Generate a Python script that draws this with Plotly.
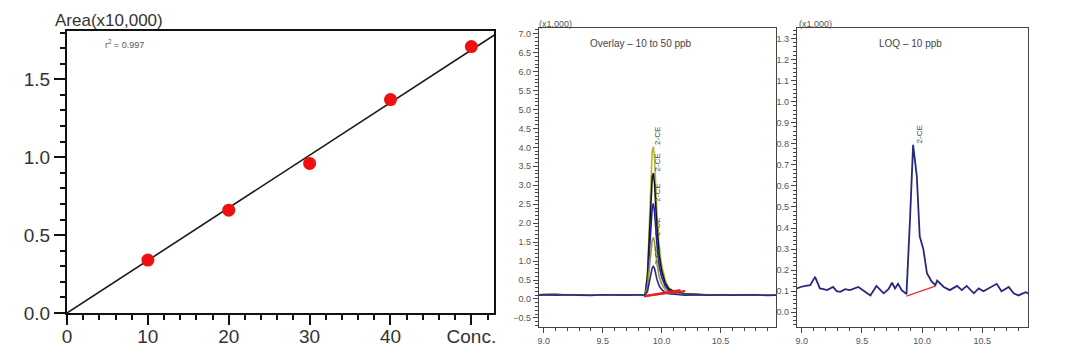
import numpy as np
import plotly.graph_objects as go

# ---------------- Data ----------------
# Calibration curve
conc = [10, 20, 30, 40, 50]
area = [0.34, 0.66, 0.96, 1.37, 1.71]   # x10,000
conc_ticks = [0, 10, 20, 30, 40, 50]
conc_ticktext = ["0", "10", "20", "30", "40", "Conc."]

# Overlay chromatograms (x1,000), retention time in min
overlay_time = [8.96, 9.0, 9.1, 9.2, 9.3, 9.4, 9.5, 9.6, 9.7, 9.8, 9.86, 9.88, 9.90, 9.92, 9.93,
                9.94, 9.96, 9.98, 10.0, 10.03, 10.06, 10.1, 10.15, 10.2, 10.3, 10.4, 10.5, 10.6,
                10.7, 10.8, 10.9, 10.97]
ppb50 = [0.11, 0.12, 0.11, 0.10, 0.11, 0.10, 0.11, 0.10, 0.11, 0.10, 0.11, 0.70, 2.30, 3.90, 4.02,
         3.70, 2.30, 1.35, 0.90, 0.50, 0.30, 0.22, 0.18, 0.14, 0.12, 0.11, 0.10, 0.11, 0.10, 0.11, 0.10, 0.11]
ppb40 = [0.11, 0.11, 0.12, 0.10, 0.11, 0.11, 0.10, 0.11, 0.10, 0.11, 0.11, 0.60, 1.90, 3.20, 3.32,
         3.05, 1.90, 1.15, 0.75, 0.42, 0.27, 0.20, 0.16, 0.13, 0.12, 0.10, 0.11, 0.10, 0.11, 0.10, 0.11, 0.10]
ppb30 = [0.10, 0.11, 0.11, 0.10, 0.10, 0.11, 0.10, 0.10, 0.11, 0.10, 0.10, 0.45, 1.45, 2.40, 2.52,
         2.30, 1.45, 0.85, 0.58, 0.34, 0.22, 0.17, 0.14, 0.12, 0.11, 0.10, 0.10, 0.11, 0.10, 0.10, 0.11, 0.10]
ppb20 = [0.10, 0.10, 0.11, 0.10, 0.11, 0.10, 0.10, 0.11, 0.10, 0.10, 0.10, 0.32, 0.95, 1.55, 1.62,
         1.50, 0.95, 0.58, 0.40, 0.25, 0.18, 0.15, 0.13, 0.11, 0.10, 0.11, 0.10, 0.10, 0.11, 0.10, 0.10, 0.10]
ppb10 = [0.10, 0.11, 0.10, 0.11, 0.10, 0.09, 0.11, 0.10, 0.10, 0.11, 0.10, 0.20, 0.52, 0.82, 0.86,
         0.80, 0.52, 0.34, 0.25, 0.17, 0.14, 0.12, 0.11, 0.10, 0.11, 0.10, 0.11, 0.10, 0.10, 0.11, 0.09, 0.10]
overlay_peaks = [4.02, 3.32, 2.52, 1.62, 0.86]
overlay_base_t = [9.85, 10.12, None, 9.86, 10.16, None, 9.88, 10.20]
overlay_base_v = [0.06, 0.20, None, 0.08, 0.24, None, 0.09, 0.21]

# LOQ chromatogram (x1,000)
loq_time = [8.96, 8.99, 9.03, 9.07, 9.11, 9.15, 9.18, 9.21, 9.26, 9.29, 9.32, 9.36, 9.40, 9.44,
            9.47, 9.52, 9.57, 9.62, 9.68, 9.72, 9.75, 9.775, 9.80, 9.83, 9.87, 9.90, 9.925, 9.956,
            9.98, 10.01, 10.04, 10.08, 10.11, 10.125, 10.18, 10.23, 10.29, 10.33, 10.37, 10.43,
            10.47, 10.51, 10.57, 10.62, 10.66, 10.72, 10.76, 10.80, 10.86, 10.88]
loq_signal = [0.113, 0.12, 0.125, 0.129, 0.168, 0.113, 0.11, 0.105, 0.12, 0.10, 0.097, 0.11, 0.105,
              0.115, 0.12, 0.10, 0.08, 0.125, 0.09, 0.11, 0.14, 0.113, 0.135, 0.105, 0.086, 0.45,
              0.795, 0.645, 0.36, 0.30, 0.185, 0.145, 0.129, 0.15, 0.12, 0.105, 0.125, 0.105, 0.125,
              0.09, 0.113, 0.10, 0.12, 0.135, 0.10, 0.12, 0.09, 0.08, 0.095, 0.09]
loq_base_t = [9.87, 10.11]
loq_base_v = [0.077, 0.124]
loq_peak = 0.795

# ---------------- Figure ----------------
W, H = 1080, 353
def px(x):
    return x / W
def py(y):
    return 1 - y / H

fig = go.Figure()

# Panel 1
slope = float(np.sum(np.array(conc) * np.array(area)) / np.sum(np.array(conc) ** 2))
fit_x = [0, 53]
fig.add_trace(go.Scatter(x=fit_x, y=[slope * v for v in fit_x], mode="lines",
                         line=dict(color="#1a1a1a", width=1.6), xaxis="x", yaxis="y",
                         showlegend=False, hoverinfo="skip", cliponaxis=True))
fig.add_trace(go.Scatter(x=conc, y=area, mode="markers",
                         marker=dict(color="#f01010", size=13), xaxis="x", yaxis="y",
                         showlegend=False))

# Panel 2
series = [(ppb50, "#b9b836"), (ppb40, "#151515"), (ppb30, "#1d1da8"), (ppb20, "#9a9a30"), (ppb10, "#2a2a88")]
for vals, col in series:
    fig.add_trace(go.Scatter(x=overlay_time, y=vals, mode="lines",
                             line=dict(color=col, width=1.6), xaxis="x2", yaxis="y2",
                             showlegend=False))
fig.add_trace(go.Scatter(x=overlay_base_t, y=overlay_base_v, mode="lines",
                         line=dict(color="#e82020", width=1.8), xaxis="x2", yaxis="y2",
                         showlegend=False))

# Panel 3
fig.add_trace(go.Scatter(x=loq_time, y=loq_signal, mode="lines",
                         line=dict(color="#27277f", width=1.8), xaxis="x3", yaxis="y3",
                         showlegend=False))
fig.add_trace(go.Scatter(x=loq_base_t, y=loq_base_v, mode="lines",
                         line=dict(color="#e83030", width=1.3), xaxis="x3", yaxis="y3",
                         showlegend=False))

big_font = dict(family="Liberation Sans, Arial, sans-serif", size=19, color="#333333")
small_font = dict(family="Liberation Sans, Arial, sans-serif", size=9, color="#555555")

fig.update_layout(
    width=W, height=H, margin=dict(l=0, r=0, t=0, b=0, autoexpand=False),
    paper_bgcolor="white", plot_bgcolor="white",
    xaxis=dict(domain=[px(67), px(494)], range=[0, 52.8], showgrid=False, zeroline=False,
               showline=True, mirror=True, linecolor="#111", linewidth=2, automargin=False,
               ticks="outside", ticklen=10, tickwidth=2, tickcolor="#111", ticklabelstandoff=-5,
               tickvals=conc_ticks, ticktext=conc_ticktext, tickfont=big_font,
               minor=dict(dtick=2, ticks="outside", ticklen=5, tickwidth=2, tickcolor="#111"),
               anchor="y"),
    yaxis=dict(domain=[py(313), py(31)], range=[0, 1.81], showgrid=False, zeroline=False,
               showline=True, mirror=True, linecolor="#111", linewidth=2, automargin=False,
               ticks="outside", ticklen=11, tickwidth=2, tickcolor="#111",
               tickvals=[0, 0.5, 1.0, 1.5], ticktext=["0.0", "0.5", "1.0", "1.5"], tickfont=big_font,
               minor=dict(dtick=0.1, ticks="outside", ticklen=5, tickwidth=2, tickcolor="#111"),
               anchor="x"),
    xaxis2=dict(domain=[px(539), px(776)], range=[8.96, 10.97], showgrid=False, zeroline=False,
                showline=True, mirror=True, linecolor="#444", linewidth=1.2, automargin=False,
                ticks="outside", ticklen=5, tickcolor="#444", dtick=0.5, tick0=9.0,
                tickformat=".1f", tickfont=small_font,
                minor=dict(dtick=0.1, ticks="outside", ticklen=3, tickcolor="#444"),
                anchor="y2"),
    yaxis2=dict(domain=[py(327), py(28)], range=[-0.74, 7.15], showgrid=False, zeroline=False,
                showline=True, mirror=True, linecolor="#444", linewidth=1.2, automargin=False,
                ticks="outside", ticklen=5, tickcolor="#444", dtick=0.5, tick0=0,
                tickformat=".1f", tickfont=small_font,
                minor=dict(dtick=0.1, ticks="outside", ticklen=3, tickcolor="#444"),
                anchor="x2"),
    xaxis3=dict(domain=[px(797), px(1028)], range=[8.96, 10.88], showgrid=False, zeroline=False,
                showline=True, mirror=True, linecolor="#444", linewidth=1.2, automargin=False,
                ticks="outside", ticklen=5, tickcolor="#444", dtick=0.5, tick0=9.0,
                tickformat=".1f", tickfont=small_font,
                minor=dict(dtick=0.1, ticks="outside", ticklen=3, tickcolor="#444"),
                anchor="y3"),
    yaxis3=dict(domain=[py(327), py(28)], range=[-0.07, 1.35], showgrid=False, zeroline=False,
                showline=True, mirror=True, linecolor="#444", linewidth=1.2, automargin=False,
                ticks="outside", ticklen=5, tickcolor="#444", dtick=0.1, tick0=0,
                tickformat=".1f", tickfont=small_font,
                minor=dict(dtick=0.02, ticks="outside", ticklen=3, tickcolor="#444"),
                anchor="x3"),
)

ann = []
ann.append(dict(text="Area(x10,000)", x=px(53), y=py(20), xref="paper", yref="paper",
                xanchor="left", yanchor="middle", showarrow=False,
                font=dict(family="Liberation Sans, Arial, sans-serif", size=17, color="#333")))
ann.append(dict(text="r<sup>2</sup> = 0.997", x=px(103), y=py(44), xref="paper", yref="paper",
                xanchor="left", yanchor="middle", showarrow=False,
                font=dict(family="Liberation Sans, Arial, sans-serif", size=9, color="#555")))
for cx in (555, 815):
    ann.append(dict(text="(x1,000)", x=px(cx), y=py(24), xref="paper", yref="paper",
                    xanchor="center", yanchor="middle", showarrow=False, font=small_font))
ann.append(dict(text="Overlay – 10 to 50 ppb", x=px(641), y=py(43), xref="paper", yref="paper",
                xanchor="center", yanchor="middle", showarrow=False,
                font=dict(family="Liberation Sans, Arial, sans-serif", size=10, color="#444")))
ann.append(dict(text="LOQ – 10 ppb", x=px(910), y=py(43), xref="paper", yref="paper",
                xanchor="center", yanchor="middle", showarrow=False,
                font=dict(family="Liberation Sans, Arial, sans-serif", size=10, color="#444")))
lab_font = dict(family="Liberation Sans, Arial, sans-serif", size=8, color="#444")
for pk in overlay_peaks:
    ann.append(dict(text="2-CE", x=9.965, y=pk + 0.27, xref="x2", yref="y2", textangle=-90,
                    xanchor="center", yanchor="middle", showarrow=False, font=lab_font))
ann.append(dict(text="2-CE", x=9.975, y=loq_peak + 0.05, xref="x3", yref="y3", textangle=-90,
                xanchor="center", yanchor="middle", showarrow=False, font=lab_font))
fig.update_layout(annotations=ann)

fig.write_html("out.html")
